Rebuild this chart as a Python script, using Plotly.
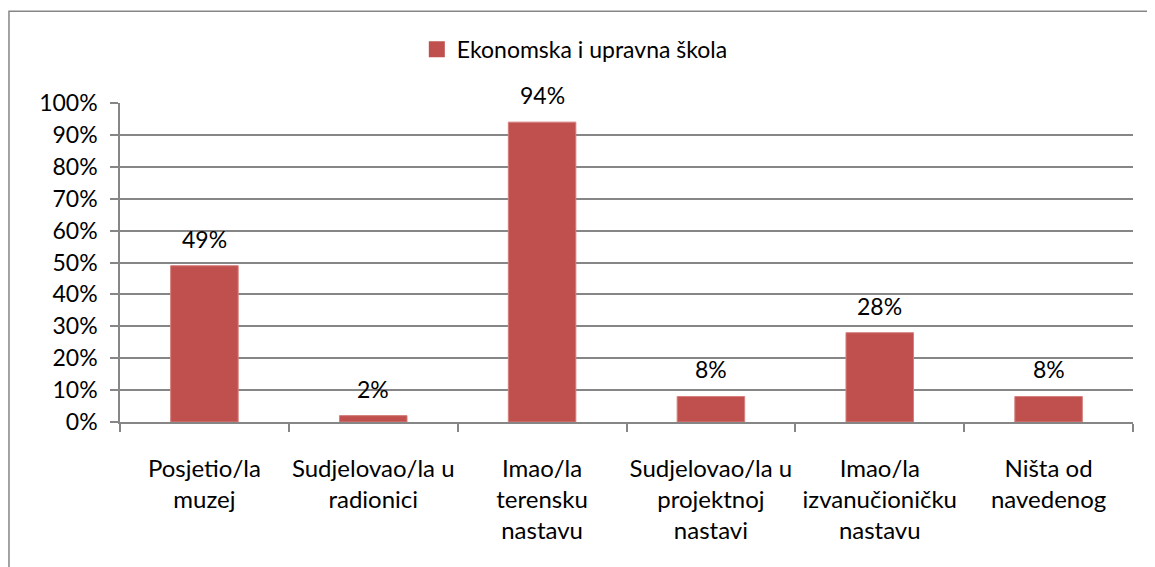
import plotly.graph_objects as go

categories = [
    "Posjetio/la<br>muzej",
    "Sudjelovao/la u<br>radionici",
    "Imao/la<br>terensku<br>nastavu",
    "Sudjelovao/la u<br>projektnoj<br>nastavi",
    "Imao/la<br>izvanučioničku<br>nastavu",
    "Ništa od<br>navedenog",
]
values = [49, 2, 94, 8, 28, 8]
series_name = "Ekonomska i upravna škola"
y_ticks = list(range(0, 101, 10))

FONT = "Lato"
GRID = "#868686"
BAR = "#C0504D"

fig = go.Figure()
fig.add_trace(go.Bar(
    x=categories, y=values, name=series_name,
    marker=dict(color=BAR, line=dict(color="#D4807E", width=1)),
    showlegend=False,
))
# legend entry with a larger square symbol
fig.add_trace(go.Scatter(
    x=[None], y=[None], mode="markers", name=series_name,
    marker=dict(symbol="square", size=16, color=BAR),
    showlegend=True,
))

for c, v in zip(categories, values):
    fig.add_annotation(x=c, y=v, text=f"{v}%", showarrow=False,
                       yanchor="bottom", yshift=11,
                       font=dict(family=FONT, size=23, color="#000000"))

fig.add_shape(type="rect", xref="paper", yref="paper",
              x0=-0.1096, x1=2.0, y0=-2.0, y1=1.288,
              line=dict(color=GRID, width=1.5), fillcolor="rgba(0,0,0,0)", layer="below")

fig.update_layout(
    width=1147, height=559,
    margin=dict(l=112, r=22, t=95, b=145),
    paper_bgcolor="white", plot_bgcolor="white",
    bargap=0.6,
    font=dict(family=FONT, size=23, color="#000000"),
    legend=dict(orientation="h", x=0.293, xanchor="left", y=1.168, yanchor="middle",
                font=dict(family=FONT, size=23), itemwidth=30, bgcolor="rgba(0,0,0,0)"),
)
fig.update_xaxes(
    type="category", showgrid=False, showline=True, linecolor=GRID, linewidth=1.5,
    ticks="outside", tickson="boundaries", ticklen=8, tickcolor=GRID, tickwidth=1.5,
    ticklabelstandoff=24, tickangle=0, tickfont=dict(family=FONT, size=24),
)
fig.update_yaxes(
    range=[0, 100], tickvals=y_ticks, ticktext=[f"{t}%" for t in y_ticks],
    showgrid=True, gridcolor=GRID, gridwidth=1.5,
    showline=True, linecolor=GRID, linewidth=1.5,
    ticks="outside", ticklen=8, tickcolor=GRID, tickwidth=1.5,
    ticklabelstandoff=8, zeroline=False,
)

fig.write_html("out.html")
